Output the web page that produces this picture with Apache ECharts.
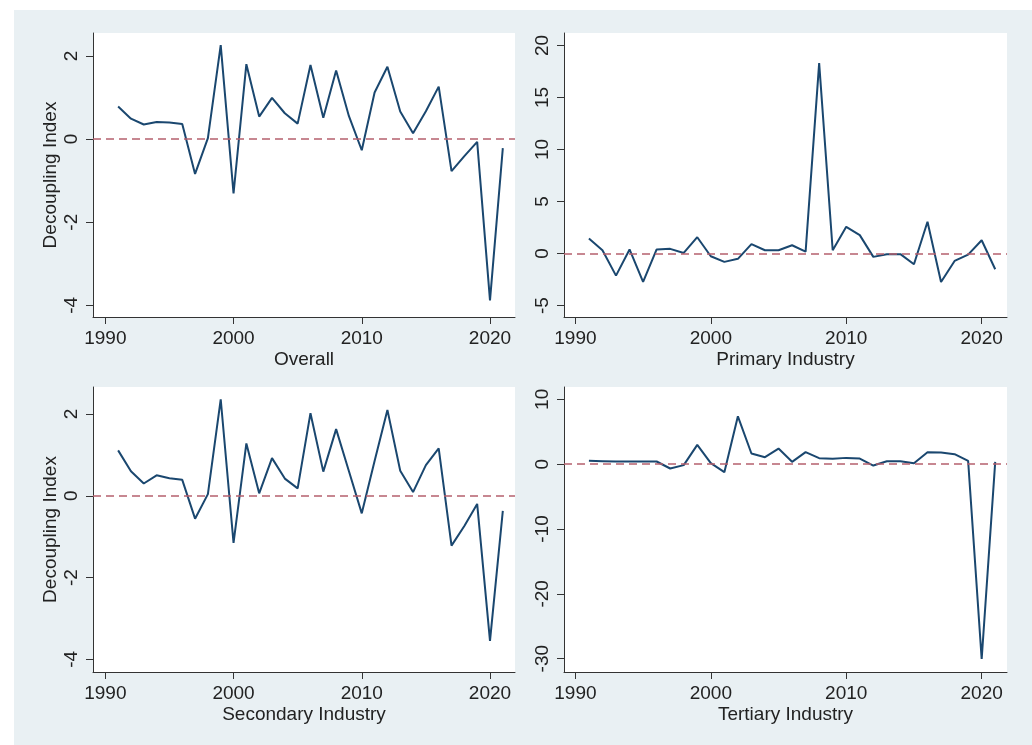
<!DOCTYPE html>
<html>
<head>
<meta charset="utf-8">
<script src="https://cdn.jsdelivr.net/npm/echarts@6/dist/echarts.min.js"></script>
<style>
  html, body { margin: 0; padding: 0; background: #ffffff; }
  #bg { position: absolute; left: 14px; top: 10px; width: 1018px; height: 735px; background: #e9f0f3; }
  #chart { position: absolute; left: 0; top: 0; width: 1032px; height: 745px; }
</style>
</head>
<body>
<div id="bg"></div>
<div id="chart"></div>
<script>
const years = [1991,1992,1993,1994,1995,1996,1997,1998,1999,2000,2001,2002,2003,2004,2005,2006,2007,2008,2009,2010,2011,2012,2013,2014,2015,2016,2017,2018,2019,2020,2021];
const overall   = [0.78,0.49,0.35,0.41,0.40,0.36,-0.84,0.02,2.26,-1.31,1.80,0.54,0.99,0.62,0.37,1.78,0.51,1.65,0.55,-0.27,1.12,1.74,0.66,0.14,0.67,1.26,-0.77,-0.41,-0.07,-3.88,-0.22];
const primary   = [1.44,0.32,-2.12,0.39,-2.73,0.39,0.45,0.06,1.57,-0.26,-0.80,-0.51,0.90,0.32,0.32,0.80,0.19,18.3,0.32,2.57,1.77,-0.32,-0.06,-0.06,-1.03,3.05,-2.73,-0.71,-0.10,1.28,-1.51];
const secondary = [1.11,0.60,0.30,0.50,0.43,0.39,-0.56,0.04,2.36,-1.15,1.28,0.06,0.92,0.42,0.18,2.02,0.59,1.63,0.60,-0.43,0.85,2.10,0.61,0.09,0.75,1.16,-1.22,-0.74,-0.20,-3.55,-0.37];
const tertiary  = [0.51,0.46,0.41,0.41,0.41,0.41,-0.67,-0.15,2.97,0.15,-1.23,7.38,1.64,1.08,2.41,0.36,1.85,0.92,0.82,0.97,0.87,-0.21,0.46,0.46,0.15,1.85,1.79,1.54,0.51,-30.05,0.36];

const xTicks = [1990, 2000, 2010, 2020];
const yTicksOverall = [-4, -2, 0, 2];
const yTicksPrimary = [-5, 0, 5, 10, 15, 20];
const yTicksSecondary = [-4, -2, 0, 2];
const yTicksTertiary = [-30, -20, -10, 0, 10];
const panelTitles = ['Overall', 'Primary Industry', 'Secondary Industry', 'Tertiary Industry'];
const yTitle = 'Decoupling Index';

const FONT = 'Liberation Sans, Arial, Helvetica, sans-serif';
const lineColor = '#1a476f';
const axisColor = '#333333';

const panels = [
  { data: overall,   yTicks: yTicksOverall,   ymin: -4.28, ymax: 2.55, grid: { left: 93, top: 33, width: 422, height: 284 }, xmin: 1989.04, xmax: 2021.95, ytitle: true },
  { data: primary,   yTicks: yTicksPrimary,   ymin: -6.1,  ymax: 21.2, grid: { left: 564, top: 33, width: 443, height: 284 }, xmin: 1989.16, xmax: 2021.87, ytitle: false },
  { data: secondary, yTicks: yTicksSecondary, ymin: -4.31, ymax: 2.66, grid: { left: 93, top: 387, width: 422, height: 285 }, xmin: 1989.04, xmax: 2021.95, ytitle: true },
  { data: tertiary,  yTicks: yTicksTertiary,  ymin: -32.05, ymax: 11.9, grid: { left: 564, top: 387, width: 443, height: 285 }, xmin: 1989.16, xmax: 2021.87, ytitle: false }
];

const grids = [], xAxes = [], yAxes = [], series = [];
panels.forEach((p, i) => {
  grids.push(Object.assign({ show: true, backgroundColor: '#ffffff', borderWidth: 0 }, p.grid));
  xAxes.push({
    type: 'value', gridIndex: i, min: p.xmin, max: p.xmax,
    name: panelTitles[i], nameLocation: 'middle', nameGap: 33,
    nameTextStyle: { fontFamily: FONT, fontSize: 19, color: '#222' },
    axisLine: { show: true, onZero: false, lineStyle: { color: axisColor, width: 1 } },
    axisTick: { show: true, length: 7, customValues: xTicks, lineStyle: { color: axisColor } },
    axisLabel: { customValues: xTicks, formatter: v => String(Math.round(v)), fontFamily: FONT, fontSize: 19, color: '#222', margin: 12 },
    splitLine: { show: false }
  });
  yAxes.push({
    type: 'value', gridIndex: i, min: p.ymin, max: p.ymax,
    name: p.ytitle ? yTitle : '', nameLocation: 'middle', nameGap: 33, nameRotate: 90,
    nameTextStyle: { fontFamily: FONT, fontSize: 19, color: '#222' },
    axisLine: { show: true, onZero: false, lineStyle: { color: axisColor, width: 1 } },
    axisTick: { show: true, length: 7, customValues: p.yTicks, lineStyle: { color: axisColor } },
    axisLabel: { customValues: p.yTicks, formatter: v => String(Math.round(v)), rotate: 90, fontFamily: FONT, fontSize: 19, color: '#222', margin: 12 },
    splitLine: { show: false }
  });
  series.push({
    type: 'line', xAxisIndex: i, yAxisIndex: i,
    data: years.map((y, k) => [y, p.data[k]]),
    showSymbol: false, symbol: 'none',
    lineStyle: { color: lineColor, width: 2 },
    silent: true, animation: false,
    markLine: {
      silent: true, symbol: 'none', label: { show: false },
      lineStyle: { color: '#b5606e', type: [8, 5], width: 1.5 },
      data: [{ yAxis: 0 }]
    }
  });
});

const chart = echarts.init(document.getElementById('chart'), null, { renderer: 'canvas' });
chart.setOption({
  animation: false,
  backgroundColor: 'transparent',
  grid: grids, xAxis: xAxes, yAxis: yAxes, series: series
});
</script>
</body>
</html>
